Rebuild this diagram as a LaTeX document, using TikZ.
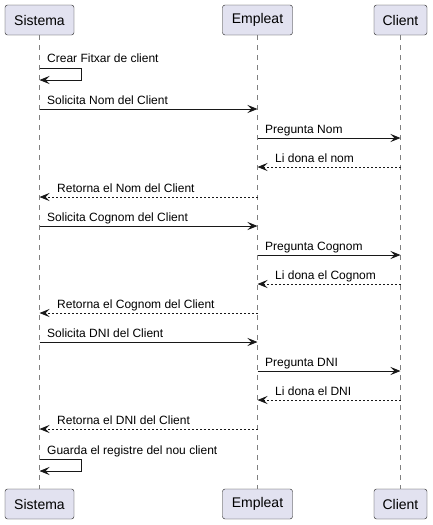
\documentclass[tikz,border=0pt]{standalone}
\usepackage{fontspec}
\setmainfont{Liberation Sans}
\usetikzlibrary{arrows.meta}

\definecolor{partfill}{HTML}{E2E2F0}
\definecolor{linecol}{HTML}{181818}

\tikzset{
	part/.style={draw=linecol, fill=partfill, rounded corners=2.5pt, minimum height=30pt, inner sep=0pt, font=\fontsize{14}{16}\selectfont},
	lifeline/.style={draw=linecol!55, dash pattern=on 5pt off 5pt, line width=0.6pt},
	msg/.style={draw=linecol, line width=0.9pt, -{Stealth[length=10pt,width=8pt,inset=4pt]}},
	reply/.style={msg, dash pattern=on 2pt off 2pt},
	lbl/.style={anchor=base west, inner sep=0pt, font=\fontsize{12}{14}\selectfont}
}

\begin{document}
\begin{tikzpicture}[x=1pt,y=-1pt]

	\useasboundingbox (0,0) rectangle (433,525);

	% Teilnehmer oben
	\node[part, minimum width=69pt] (sisT) at (39.5,20) {Sistema};
	\node[part, minimum width=70pt] (empT) at (257.5,20) {Empleat};
	\node[part, minimum width=53pt] (cliT) at (400.5,20) {Client};

	% Teilnehmer unten
	\node[part, minimum width=69pt] (sisB) at (39.5,504) {Sistema};
	\node[part, minimum width=70pt] (empB) at (257.5,504) {Empleat};
	\node[part, minimum width=53pt] (cliB) at (400.5,504) {Client};

	% Lebenslinien
	\draw[lifeline] (sisT.south) -- (sisB.north);
	\draw[lifeline] (empT.south) -- (empB.north);
	\draw[lifeline] (cliT.south) -- (cliB.north);

	% Fitxa
	\node[lbl] (m0) at (47,62.5) {Crear Fitxar de client};
	\draw[msg] (sisT |- 0,68) -- ++(42,0) -- ++(0,12) -- (sisT |- 0,80);

	% Nom
	\node[lbl] (m1) at (47,104.5) {Solicita Nom del Client};
	\draw[msg] (sisT |- 0,109) -- (empT |- 0,109);
	\node[lbl] (m2) at (265,133.5) {Pregunta Nom};
	\draw[msg] (empT |- 0,138) -- (cliT |- 0,138);
	\node[lbl] (m3) at (275,162.5) {Li dona el nom};
	\draw[reply] (cliT |- 0,167) -- (empT |- 0,167);
	\node[lbl] (m4) at (57,192.5) {Retorna el Nom del Client};
	\draw[reply] (empT |- 0,197) -- (sisT |- 0,197);

	% Cognom
	\node[lbl] (m5) at (47,221.5) {Solicita Cognom del Client};
	\draw[msg] (sisT |- 0,226) -- (empT |- 0,226);
	\node[lbl] (m6) at (265,250.5) {Pregunta Cognom};
	\draw[msg] (empT |- 0,255) -- (cliT |- 0,255);
	\node[lbl] (m7) at (275,279.5) {Li dona el Cognom};
	\draw[reply] (cliT |- 0,284) -- (empT |- 0,284);
	\node[lbl] (m8) at (57,308.5) {Retorna el Cognom del Client};
	\draw[reply] (empT |- 0,313) -- (sisT |- 0,313);

	% DNI
	\node[lbl] (m9) at (47,337.5) {Solicita DNI del Client};
	\draw[msg] (sisT |- 0,342) -- (empT |- 0,342);
	\node[lbl] (m10) at (265,366.5) {Pregunta DNI};
	\draw[msg] (empT |- 0,371) -- (cliT |- 0,371);
	\node[lbl] (m11) at (275,395.5) {Li dona el DNI};
	\draw[reply] (cliT |- 0,400) -- (empT |- 0,400);
	\node[lbl] (m12) at (57,424.5) {Retorna el DNI del Client};
	\draw[reply] (empT |- 0,429) -- (sisT |- 0,429);

	% Registre
	\node[lbl] (m13) at (47,454) {Guarda el registre del nou client};
	\draw[msg] (sisT |- 0,459) -- ++(42,0) -- ++(0,12) -- (sisT |- 0,471);

\end{tikzpicture}
\end{document}
